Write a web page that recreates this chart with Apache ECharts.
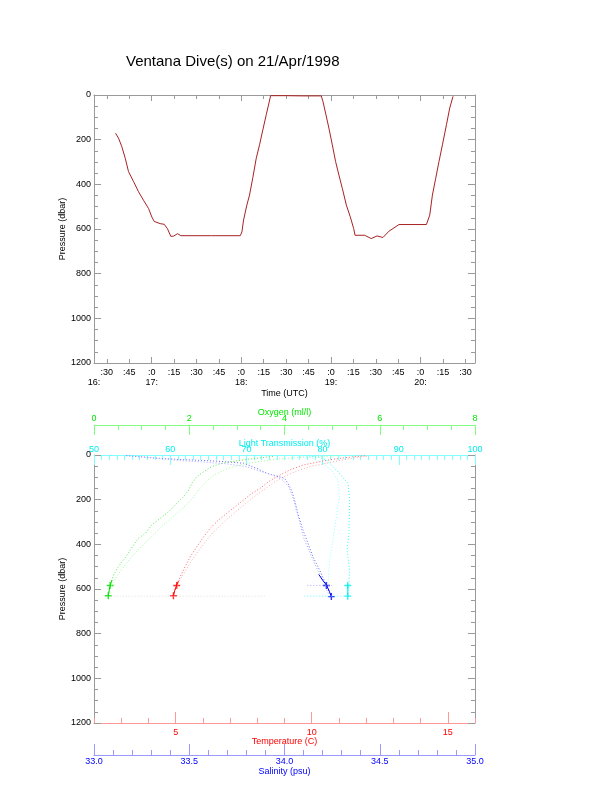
<!DOCTYPE html>
<html>
<head>
<meta charset="utf-8">
<script src="https://cdn.jsdelivr.net/npm/echarts@6/dist/echarts.min.js"></script>
<style>html,body{margin:0;padding:0;background:#fff;}#c{width:612px;height:785px;}</style>
</head>
<body>
<div id="c"></div>
<script>
// ---------- data (time in minutes after 16:00 UTC, pressure in dbar) ----------
const diveTime = [35.8,37.8,40.0,42.3,44.5,47.9,51.2,54.5,57.9,60.1,61.7,65.7,68.4,70.6,72.8,74.6,77.3,79.5,100,119.3,120.4,121.5,123.7,125.5,127.7,130.0,132.2,134.4,136.7,138.5,139.6,150,160,173.5,174.6,176.4,178.6,180.9,183.1,185.3,187.6,190.3,192.9,195.2,196.1,202.5,207.0,210.8,214.8,218.8,222.2,225.5,243.9,246.1,247.9,250.1,252.3,254.6,257.3,259.5,261.7];
const divePressure = [171,193,231,283,343,388,433,471,508,546,566,576,579,599,633,632,621,630,630,630,613,560,493,448,370,283,223,156,88,36,3,3,4,4,28,81,148,223,298,358,418,493,545,598,628,628,643,631,638,610,595,580,580,538,448,373,298,223,133,58,6];

const timeTickValues = [30,45,60,75,90,105,120,135,150,165,180,195,210,225,240,255,270];
const hourTickValues = [60,120,180,240];
const timeLabelValues = [21.4,30,45,60,75,90,105,120,135,150,165,180,195,210,225,240,255,270];
const timeLabelTexts = ['\n16:',':30',':45',':0\n17:',':15',':30',':45',':0\n18:',':15',':30',':45',':0\n19:',':15',':30',':45',':0\n20:',':15',':30'];

// profiles: [value, pressure]
const oxygenTrackA = [[0.30,630],[0.34,582],[0.41,537],[0.51,500],[0.62,470],[0.72,440],[0.83,403],[0.93,373],[1.08,351],[1.21,313],[1.39,284],[1.57,254],[1.74,216],[1.88,187],[1.99,157],[2.05,127],[2.16,97],[2.30,75],[2.47,52],[2.69,37],[2.86,30],[3.2,20],[3.6,10],[3.8,5]];
const oxygenTrackB = [[0.32,610],[0.40,570],[0.52,530],[0.66,490],[0.80,455],[0.95,420],[1.10,388],[1.28,350],[1.45,315],[1.62,285],[1.80,250],[1.98,215],[2.12,180],[2.22,150],[2.35,120],[2.52,90],[2.75,65],[3.0,48],[3.3,35],[3.6,25],[4.0,15],[4.6,8],[5.2,3]];
const oxygenDeep = [[0.30,630],[0.32,605],[0.34,582],[0.38,560]];

const tempTrackA = [[4.92,630],[5.04,582],[5.17,545],[5.35,500],[5.54,455],[5.78,411],[6.03,366],[6.27,328],[6.58,291],[6.88,261],[7.19,231],[7.50,201],[7.80,172],[8.11,149],[8.42,119],[8.72,97],[9.19,67],[9.68,45],[10.29,30],[10.78,19],[11.5,8],[12.0,3]];
const tempTrackB = [[5.0,600],[5.15,560],[5.35,520],[5.55,480],[5.80,435],[6.05,395],[6.35,350],[6.65,315],[6.95,280],[7.30,245],[7.65,210],[7.95,180],[8.25,155],[8.55,128],[8.85,105],[9.2,85],[9.6,65],[10.0,50],[10.5,38],[11.0,25],[11.6,12],[12.1,5]];
const tempDeep = [[4.92,630],[4.97,605],[5.04,582],[5.10,565]];

const salTrackA = [[34.246,634],[34.22,582],[34.184,515],[34.149,455],[34.123,395],[34.097,336],[34.07,261],[34.053,201],[34.036,157],[34.018,127],[34.0,104],[33.908,82],[33.855,60],[33.785,37],[33.69,30],[33.59,25],[33.45,20],[33.34,15],[33.17,3]];
const salTrackB = [[34.23,620],[34.20,560],[34.16,490],[34.13,430],[34.10,370],[34.08,300],[34.06,240],[34.04,180],[34.02,140],[33.99,112],[33.94,90],[33.87,72],[33.80,52],[33.70,40],[33.58,32],[33.45,25],[33.30,12],[33.22,5]];
const salDeep = [[34.246,634],[34.235,610],[34.22,582],[34.20,560],[34.18,535]];
const salBottom = [[34.12,584],[34.25,584]];

const lightTrackA = [[83.33,634],[83.46,583],[83.55,515],[83.2,425],[83.46,351],[83.55,201],[83.33,127],[82.2,82],[81.35,52],[80.5,22],[79.5,10],[78.0,3]];
const lightTrackB = [[80.7,575],[80.92,470],[81.35,380],[81.8,276],[82.2,187],[82.0,112],[81.14,67],[80.0,35],[78.5,12],[77.0,5]];
const lightDeep = [[83.3,634],[83.3,580]];
const lightBottom = [[77.6,632],[83.5,632]];
const deepFaint = [[0.35,632],[3.6,632]];

const endMarksOxygen = [[0.30,630],[0.34,584]];
const endMarksTemp = [[4.92,630],[5.04,584]];
const endMarksSal = [[34.246,634],[34.22,584]];
const endMarksLight = [[83.3,632],[83.3,584]];

const pressureLabelStep = 200;
const oxygenLabels = [0,2,4,6,8];
const lightLabels = [50,60,70,80,90,100];
const tempLabels = [5,10,15];
const salLabels = [33.0,33.5,34.0,34.5,35.0];

// ---------- chart ----------
const FONT = 'Liberation Sans, Arial, Helvetica, sans-serif';
const GREY = '#9a9a9a';

function yAxisDef(grid, pos, labels) {
  return {
    type:'value', gridIndex:grid, position:pos, inverse:true, min:0, max:1200, interval:pressureLabelStep,
    name: labels ? 'Pressure (dbar)' : '', nameLocation:'middle', nameGap:27, nameMoveOverlap:false,
    nameTextStyle:{fontSize:9, color:'#000', fontFamily:FONT},
    axisLine:{show:true, onZero:false, lineStyle:{color:GREY, width:1}},
    axisTick:{show:true, inside:true, length:7, lineStyle:{color:GREY}},
    minorTick:{show:true, splitNumber:4, length:4, lineStyle:{color:GREY}},
    axisLabel:{show:labels, fontSize:9, color:'#000', margin:3, fontFamily:FONT, formatter:v => String(v)},
    splitLine:{show:false}, minorSplitLine:{show:false}
  };
}
function overlayX(grid, pos, offset, min, max, ticks, len, color) {
  return {
    type:'value', gridIndex:grid, position:pos, offset:offset, min:min, max:max,
    axisLine:{show:false, onZero:false},
    axisTick:{show:true, inside:true, length:len, customValues:ticks, lineStyle:{color:color}},
    axisLabel:{show:false}, splitLine:{show:false}
  };
}
function timeLabel(v) {
  for (let i = 0; i < timeLabelValues.length; i++) if (Math.abs(timeLabelValues[i]-v) < 0.01) return timeLabelTexts[i];
  return '';
}
function varAxis(pos, offset, min, max, interval, labels, fmt, name, lineColor, textColor, labelMargin, nameGap) {
  return {
    type:'value', gridIndex:1, position:pos, offset:offset, min:min, max:max, interval:interval,
    name:name, nameLocation:'middle', nameGap:nameGap, nameMoveOverlap:false,
    nameTextStyle:{fontSize:9, color:textColor, fontFamily:FONT},
    axisLine:{show:true, onZero:false, lineStyle:{color:lineColor}},
    axisTick:{show:true, inside:true, length:5, lineStyle:{color:lineColor}},
    axisLabel:{show:true, customValues:labels, formatter:fmt, fontSize:9, color:textColor, margin:labelMargin, fontFamily:FONT},
    splitLine:{show:false}
  };
}

const OX_LINE='#80ff80', OX_TEXT='#00e600';
const LT_LINE='#80ffff', LT_TEXT='#00eeee';
const T_LINE='#ff9999', T_TEXT='#ff0000';
const S_LINE='#9999ff', S_TEXT='#0000ff';

function track(data, xi, color, dash) {
  return {type:'line', xAxisIndex:xi, yAxisIndex:2, data:data, showSymbol:false, silent:true,
    lineStyle:{color:color, width:1, type:dash || [1,2]}, animation:false};
}
function marks(data, xi, color) {
  return {type:'scatter', xAxisIndex:xi, yAxisIndex:2, data:data, silent:true, animation:false,
    symbol:'path://M4,0H6V4H10V6H6V10H4V6H0V4H4Z', symbolSize:7, itemStyle:{color:color}};
}

const option = {
  animation:false,
  backgroundColor:'#fff',
  title:{text:'Ventana Dive(s) on 21/Apr/1998', left:121, top:49,
    textStyle:{fontSize:15, fontWeight:'normal', color:'#000', fontFamily:FONT}},
  grid:[
    {left:94, top:95, width:381, height:268},
    {left:94, top:455, width:381, height:268}
  ],
  xAxis:[
    // 0 time bottom
    {type:'value', gridIndex:0, position:'bottom', min:21.4, max:276.4,
     name:'Time (UTC)', nameLocation:'middle', nameGap:26, nameMoveOverlap:false, nameTextStyle:{fontSize:9, color:'#000', fontFamily:FONT},
     axisLine:{onZero:false, lineStyle:{color:GREY}},
     axisTick:{inside:true, length:4, customValues:timeTickValues, lineStyle:{color:GREY}},
     axisLabel:{customValues:timeLabelValues, formatter:timeLabel, fontSize:9, lineHeight:10, margin:5, color:'#000', fontFamily:FONT},
     splitLine:{show:false}},
    // 1 time top mirror
    {type:'value', gridIndex:0, position:'top', min:21.4, max:276.4,
     axisLine:{onZero:false, lineStyle:{color:GREY}},
     axisTick:{inside:true, length:4, customValues:timeTickValues, lineStyle:{color:GREY}},
     axisLabel:{show:false}, splitLine:{show:false}},
    // 2 oxygen
    varAxis('top', 30, 0, 8, 0.5, oxygenLabels, v => String(v), 'Oxygen (ml/l)', OX_LINE, OX_TEXT, 2, 8),
    // 3 light transmission
    varAxis('top', 0, 50, 100, 1, lightLabels, v => String(v), 'Light Transmission (%)', LT_LINE, LT_TEXT, 1, 7),
    // 4 temperature
    varAxis('bottom', 0, 2, 16, 1, tempLabels, v => String(v), 'Temperature (C)', T_LINE, T_TEXT, 5, 14),
    // 5 salinity
    varAxis('bottom', 32, 33, 35, 0.1, salLabels, v => v.toFixed(1), 'Salinity (psu)', S_LINE, S_TEXT, 2, 12),
    // overlays for long ticks
    overlayX(0, 'bottom', 0, 21.4, 276.4, hourTickValues, 6, GREY),
    overlayX(0, 'top', 0, 21.4, 276.4, hourTickValues, 6, GREY),
    overlayX(1, 'top', 30, 0, 8, oxygenLabels, 10, OX_LINE),
    overlayX(1, 'top', 0, 50, 100, lightLabels, 10, LT_LINE),
    overlayX(1, 'bottom', 0, 2, 16, tempLabels, 11, T_LINE),
    overlayX(1, 'bottom', 32, 33, 35, salLabels, 11, S_LINE)
  ],
  yAxis:[
    yAxisDef(0, 'left', true),
    yAxisDef(0, 'right', false),
    yAxisDef(1, 'left', true),
    yAxisDef(1, 'right', false)
  ],
  series:[
    {type:'line', xAxisIndex:0, yAxisIndex:0, data:diveTime.map((t,i)=>[t, divePressure[i]]),
     showSymbol:false, silent:true, lineStyle:{color:'#a82222', width:1}},
    track(deepFaint, 2, '#dddddd'),
    track(oxygenTrackA, 2, '#55ee55'),
    track(oxygenTrackB, 2, '#99ff99'),
    track(oxygenDeep, 2, '#00dd00', 'solid'),
    marks(endMarksOxygen, 2, '#00dd00'),
    track(tempTrackA, 4, '#ff6666'),
    track(tempTrackB, 4, '#ffaaaa'),
    track(tempDeep, 4, '#ff0000', 'solid'),
    marks(endMarksTemp, 4, '#ff0000'),
    track(salTrackA, 5, '#6666ff'),
    track(salTrackB, 5, '#aaaaff'),
    track(salDeep, 5, '#0000ee', 'solid'),
    track(salBottom, 5, '#aaaaff'),
    marks(endMarksSal, 5, '#0000ee'),
    track(lightTrackA, 3, '#33ffff'),
    track(lightTrackB, 3, '#99ffff'),
    track(lightDeep, 3, '#00eeee', 'solid'),
    track(lightBottom, 3, '#66ffff'),
    marks(endMarksLight, 3, '#00eeee')
  ]
};
const chart = echarts.init(document.getElementById('c'), null, {renderer:'canvas'});
chart.setOption(option);
</script>
</body>
</html>
